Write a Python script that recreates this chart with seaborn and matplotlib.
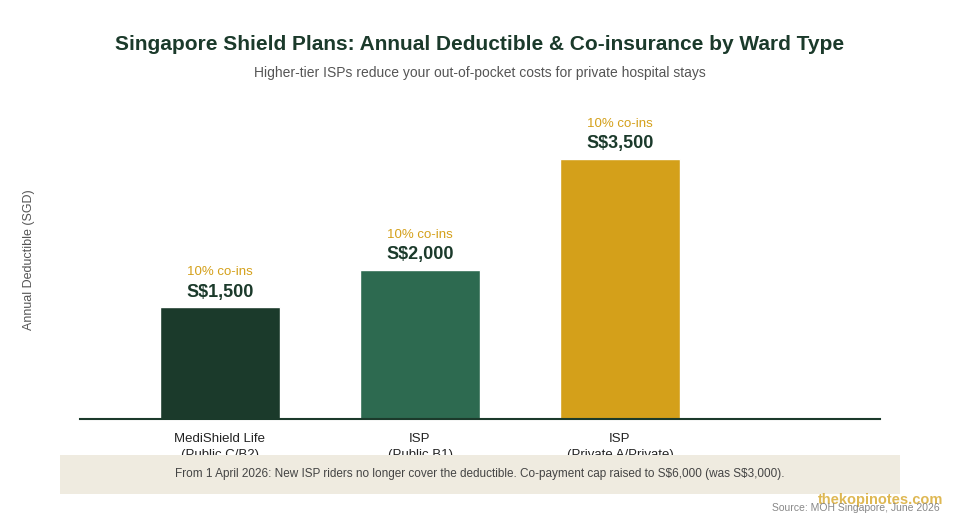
import matplotlib
matplotlib.use("Agg")
import matplotlib.pyplot as plt
import seaborn as sns
import pandas as pd
from matplotlib.patches import Rectangle

categories = ["MediShield Life\n(Public C/B2)", "ISP\n(Public B1)", "ISP\n(Private A/Private)"]
deductibles = [1500, 2000, 3500]
coins_labels = ["10% co-ins", "10% co-ins", "10% co-ins"]
value_labels = ["S\\$1,500", "S\\$2,000", "S\\$3,500"]
colors = ["#1b3a2b", "#2d6a50", "#d4a01a"]

sns.set_theme(style="white")
plt.rcParams['font.family'] = ['Liberation Sans', 'DejaVu Sans']

fig = plt.figure(figsize=(9.6, 5.2), dpi=100)
ax = fig.add_axes([80/960, 1-419/520, 800/960, 319/520])
df = pd.DataFrame({"cat": categories, "val": deductibles})
sns.barplot(data=df, x="cat", y="val", hue="cat", palette=colors, width=0.6,
            legend=False, ax=ax, saturation=1)
ax.set_xlim(-0.7, 3.3)
ax.set_ylim(0, 4290)
ax.set_yticks([])
ax.set_xlabel("")
ax.set_ylabel("Annual Deductible (SGD)", fontsize=9, color="#555555", labelpad=38)
ax.yaxis.set_label_coords(-45/800, 0.5)
for s in ["top", "right", "left"]:
    ax.spines[s].set_visible(False)
ax.spines["bottom"].set_color("#1b3a2b")
ax.spines["bottom"].set_linewidth(1.5)
ax.tick_params(axis="x", length=0, labelsize=9.5, colors="#222222", pad=10)
for t in ax.get_xticklabels():
    t.set_linespacing(1.5)

for i, (v, vl, cl) in enumerate(zip(deductibles, value_labels, coins_labels)):
    ax.annotate(vl, (i, v), xytext=(0, 5), textcoords="offset points", ha="center",
                va="bottom", fontsize=13, fontweight="bold", color="#1b3a2b")
    ax.annotate(cl, (i, v), xytext=(0, 21), textcoords="offset points", ha="center",
                va="bottom", fontsize=9.5, color="#d4a01a")

fig.text(0.5, 1-44/520, "Singapore Shield Plans: Annual Deductible & Co-insurance by Ward Type",
         ha="center", va="center", fontsize=15, fontweight="bold", color="#1b3a2b")
fig.text(0.5, 1-73/520, "Higher-tier ISPs reduce your out-of-pocket costs for private hospital stays",
         ha="center", va="center", fontsize=10, color="#555555")

fig.patches.append(Rectangle((60/960, 1-494/520), 840/960, 39/520, transform=fig.transFigure,
                             facecolor="#efebe0", edgecolor="none", zorder=5))
fig.text(480/960, 1-474/520, "From 1 April 2026: New ISP riders no longer cover the deductible. Co-payment cap raised to S\\$6,000 (was S\\$3,000).",
         ha="center", va="center", fontsize=8.5, color="#444444", zorder=6)
fig.text(943/960, 1-500/520, "thekopinotes.com", ha="right", va="center", fontsize=10.5,
         fontweight="bold", color="#d4a01a", alpha=0.75, zorder=6)
fig.text(940/960, 1-508/520, "Source: MOH Singapore, June 2026", ha="right", va="center",
         fontsize=7.5, color="#888888", zorder=6)

fig.savefig("out.png", dpi=100, facecolor="white")
